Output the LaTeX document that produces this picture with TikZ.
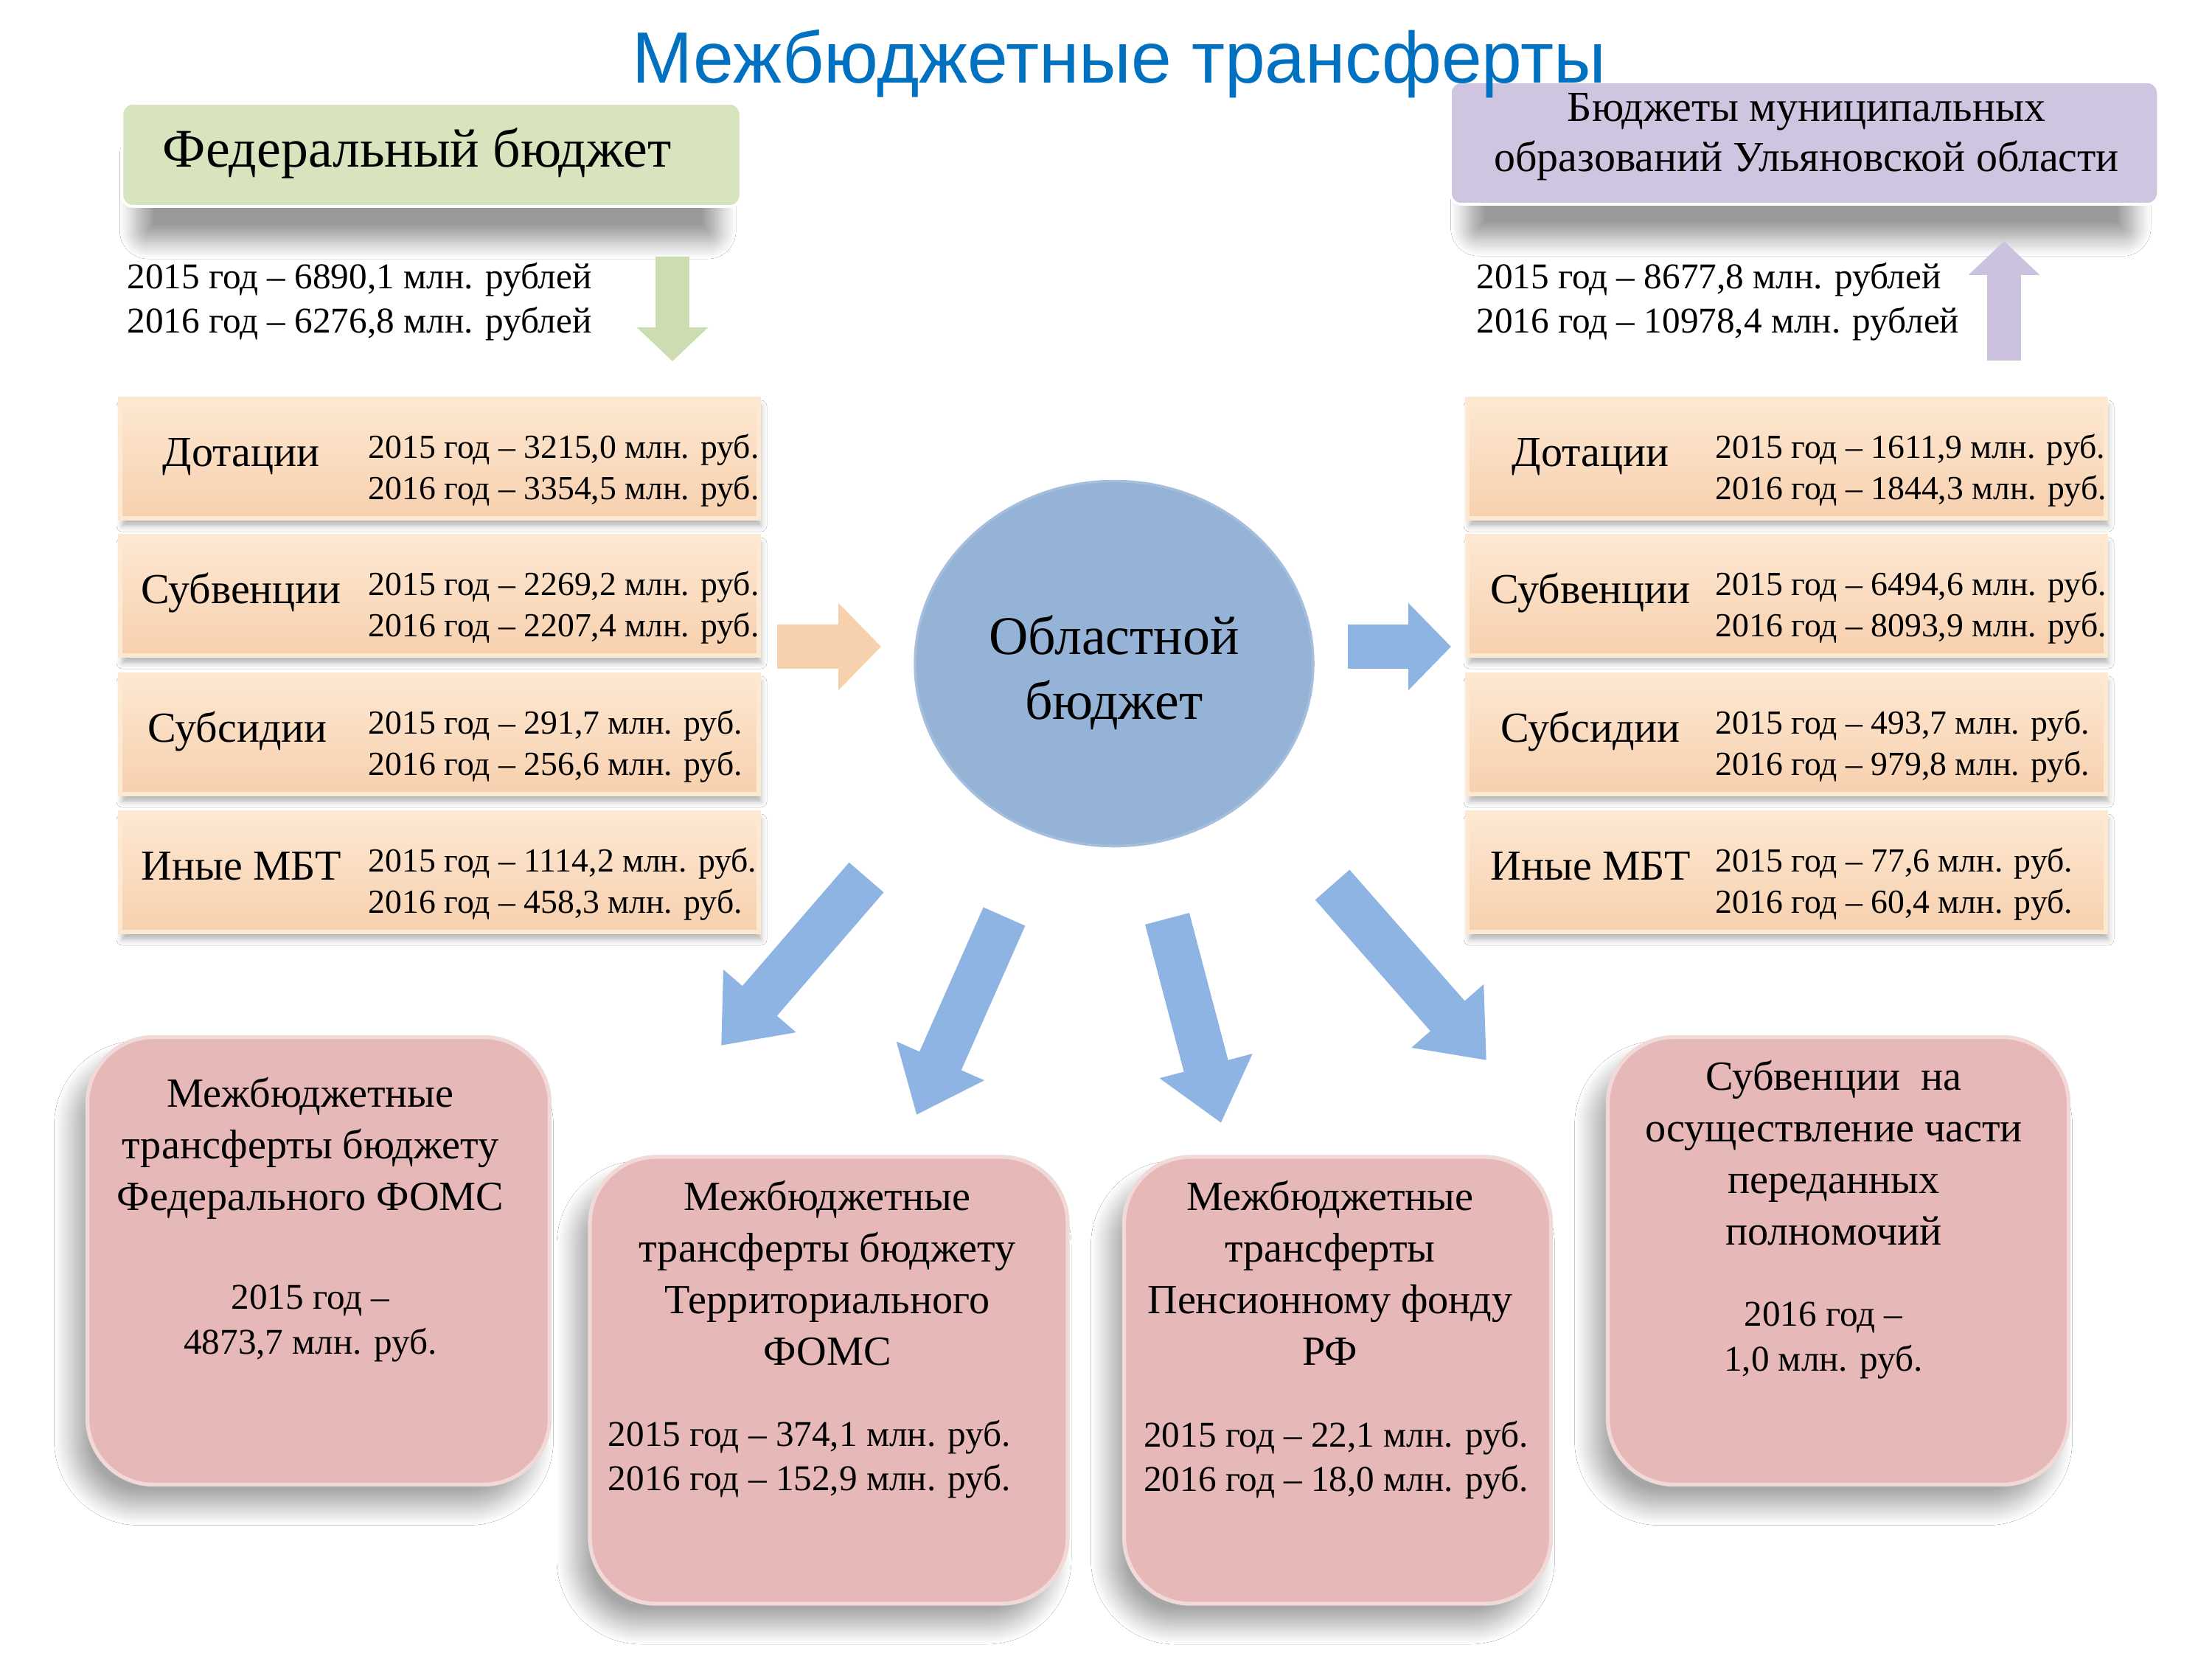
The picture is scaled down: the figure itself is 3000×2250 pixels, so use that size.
\documentclass[tikz,border=0pt]{standalone}
\usepackage{fontspec}
\setmainfont{Liberation Serif}
\newfontfamily\titlefont{Liberation Sans}
\usetikzlibrary{arrows.meta,positioning,shapes.geometric,shadows.blur}

\definecolor{titleblue}{RGB}{0,112,192}
\definecolor{fedgreen}{RGB}{215,228,189}
\definecolor{munlilac}{RGB}{207,197,224}
\definecolor{peach}{RGB}{247,208,174}
\definecolor{peachlight}{RGB}{253,232,210}
\definecolor{regblue}{RGB}{149,179,215}
\definecolor{arrblue}{RGB}{141,180,227}
\definecolor{pinkbox}{RGB}{230,185,184}
\definecolor{arrgreen}{RGB}{205,221,178}
\definecolor{arrlilac}{RGB}{204,193,222}

\tikzset{
  topbox/.style={rounded corners=1.5mm, minimum height=14mm, draw=white, line width=1pt,
    blur shadow={shadow xshift=-0.5mm, shadow yshift=-5.5mm, shadow scale=0.94,
      shadow blur radius=2.5mm, shadow blur steps=20, shadow opacity=40}},
  headtext/.style={inner sep=0pt, font=\fontsize{21pt}{25pt}\selectfont},
  money/.style={inner sep=0pt, align=left, anchor=west, font=\fontsize{14pt}{17pt}\selectfont},
  kindbox/.style={top color=peachlight, bottom color=peach, draw=peachlight, line width=1.5pt,
    minimum width=86.6mm, minimum height=16.2mm,
    blur shadow={shadow xshift=0.3mm, shadow yshift=-1mm, shadow blur radius=0.8mm, shadow opacity=30}},
  kindname/.style={inner sep=0pt, anchor=base, font=\fontsize{16.5pt}{20pt}\selectfont},
  kindsum/.style={inner sep=0pt, align=left, anchor=west, font=\fontsize{13pt}{15.9pt}\selectfont},
  budget/.style={ellipse, fill=regblue, draw=regblue!85!white, line width=1pt,
    minimum width=54mm, minimum height=49.5mm},
  budgettext/.style={inner sep=0pt, align=center, font=\fontsize{21pt}{25.2pt}\selectfont},
  fundbox/.style={fill=pinkbox, draw=pinkbox!55!white, line width=1.5pt, rounded corners=9mm,
    blur shadow={shadow xshift=-2mm, shadow yshift=-3mm, shadow blur radius=2.5mm,
      shadow blur steps=20, shadow opacity=35}},
  fundtext/.style={inner sep=0pt, align=center, font=\fontsize{16pt}{19.9pt}\selectfont},
  fundsum/.style={inner sep=0pt, align=center, font=\fontsize{14pt}{17.2pt}\selectfont},
  flow/.style={line width=6.2mm, draw=arrblue, -{Triangle[width=12.5mm, length=8mm]}},
  sideflow/.style={line width=6mm, -{Triangle[width=11.5mm, length=5.8mm]}},
  upflow/.style={line width=4.6mm, -{Triangle[width=9.4mm, length=4.6mm]}},
}

\begin{document}
\begin{tikzpicture}[x=0.1mm,y=-0.1mm]
  \path[use as bounding box, fill=white] (0,0) rectangle (3000,2250);

  % Federal and municipal budgets
  \node[topbox, fill=fedgreen, minimum width=83.9mm] (fed) at (585,210) {};
  \node[headtext, anchor=base west] (fedname) at (220,227) {Федеральный бюджет};
  \node[topbox, fill=munlilac, minimum width=96mm, minimum height=16.6mm] (mun) at (2447,194) {};
  \node[headtext, align=center, font=\fontsize{16.5pt}{19.4pt}\selectfont] (munname) at (2450,186)
    {Бюджеты муниципальных\\образований Ульяновской области};

  \node[money] (fedsum) at (172,409) {2015 год – 6890,1 млн. рублей\\2016 год – 6276,8 млн. рублей};
  \node[money] (munsum) at (2002,409) {2015 год – 8677,8 млн. рублей\\2016 год – 10978,4 млн. рублей};

  \coordinate (fedout) at (912,348);
  \coordinate (fedin) at (912,490);
  \coordinate (munin) at (2718,489);
  \coordinate (munout) at (2718,327);
  \draw[upflow, draw=arrgreen] (fedout) -- (fedin);
  \draw[upflow, draw=arrlilac] (munin) -- (munout);

  % Kinds of transfers
  \foreach \row/\y in {dot/622, subv/808, subs/996, other/1183} {
    \node[kindbox] (l\row) at (596,\y) {};
    \node[kindbox] (r\row) at (2423,\y) {};
  }
  \node[kindname] (ldotname) at (327,632) {Дотации};
  \node[kindname] (lsubvname) at (327,818) {Субвенции};
  \node[kindname] (lsubsname) at (322,1006) {Субсидии};
  \node[kindname] (lothername) at (327,1193) {Иные МБТ};
  \node[kindsum] (ldotsum) at (499,638) {2015 год – 3215,0 млн. руб.\\2016 год – 3354,5 млн. руб.};
  \node[kindsum] (lsubvsum) at (499,824) {2015 год – 2269,2 млн. руб.\\2016 год – 2207,4 млн. руб.};
  \node[kindsum] (lsubssum) at (499,1012) {2015 год – 291,7 млн. руб.\\2016 год – 256,6 млн. руб.};
  \node[kindsum] (lothersum) at (499,1199) {2015 год – 1114,2 млн. руб.\\2016 год – 458,3 млн. руб.};

  \node[kindname] (rdotname) at (2157,632) {Дотации};
  \node[kindname] (rsubvname) at (2157,818) {Субвенции};
  \node[kindname] (rsubsname) at (2157,1006) {Субсидии};
  \node[kindname] (rothername) at (2157,1193) {Иные МБТ};
  \node[kindsum] (rdotsum) at (2326,638) {2015 год – 1611,9 млн. руб.\\2016 год – 1844,3 млн. руб.};
  \node[kindsum] (rsubvsum) at (2326,824) {2015 год – 6494,6 млн. руб.\\2016 год – 8093,9 млн. руб.};
  \node[kindsum] (rsubssum) at (2326,1012) {2015 год – 493,7 млн. руб.\\2016 год – 979,8 млн. руб.};
  \node[kindsum] (rothersum) at (2326,1199) {2015 год – 77,6 млн. руб.\\2016 год – 60,4 млн. руб.};

  % Regional budget
  \node[budget] (reg) at (1511,900) {};
  \node[budgettext] (regname) at (1511,912) {Областной\\бюджет};

  \coordinate (inbeg) at (1054,877);
  \coordinate (inend) at (1195,877);
  \coordinate (outbeg) at (1828,877);
  \coordinate (outend) at (1968,877);
  \draw[sideflow, draw=peach] (inbeg) -- (inend);
  \draw[sideflow, draw=arrblue] (outbeg) -- (outend);

  % Transfers to funds
  \node[fundbox, minimum width=62.7mm, minimum height=60.7mm] (ffoms) at (432,1710) {};
  \node[fundtext] (ffomsname) at (421,1557) {Межбюджетные\\трансферты бюджету\\Федерального ФОМС};
  \node[fundsum] (ffomssum) at (421,1795) {2015 год –\\4873,7 млн. руб.};

  \node[fundbox, minimum width=64.8mm, minimum height=60.6mm] (tfoms) at (1124,1872) {};
  \node[fundtext] (tfomsname) at (1122,1727) {Межбюджетные\\трансферты бюджету\\Территориального\\ФОМС};
  \node[fundsum] (tfomssum) at (1098,1979) {2015 год – 374,1 млн. руб.\\2016 год – 152,9 млн. руб.};

  \node[fundbox, minimum width=57.9mm, minimum height=60.6mm] (pfr) at (1814,1872) {};
  \node[fundtext] (pfrname) at (1804,1726) {Межбюджетные\\трансферты\\Пенсионному фонду\\РФ};
  \node[fundsum] (pfrsum) at (1812,1980) {2015 год – 22,1 млн. руб.\\2016 год – 18,0 млн. руб.};

  \node[fundbox, minimum width=62.5mm, minimum height=60.7mm] (power) at (2493,1710) {};
  \node[fundtext] (powername) at (2487,1564) {Субвенции\ \ на\\осуществление части\\переданных\\полномочий};
  \node[fundsum] (powersum) at (2473,1818) {2016 год –\\1,0 млн. руб.};

  \coordinate (f1beg) at (1175,1190);
  \coordinate (f1end) at (978,1418);
  \coordinate (f2beg) at (1362,1243);
  \coordinate (f2end) at (1243,1512);
  \coordinate (f3beg) at (1583,1246);
  \coordinate (f3end) at (1656,1523);
  \coordinate (f4beg) at (1807,1200);
  \coordinate (f4end) at (2016,1438);
  \draw[flow] (f1beg) -- (f1end);
  \draw[flow] (f2beg) -- (f2end);
  \draw[flow] (f3beg) -- (f3end);
  \draw[flow] (f4beg) -- (f4end);

  % Title
  \node[inner sep=0pt, anchor=base, text=titleblue, font=\titlefont\fontsize{28pt}{34pt}\selectfont]
    (title) at (1518,113) {Межбюджетные трансферты};
\end{tikzpicture}
\end{document}
